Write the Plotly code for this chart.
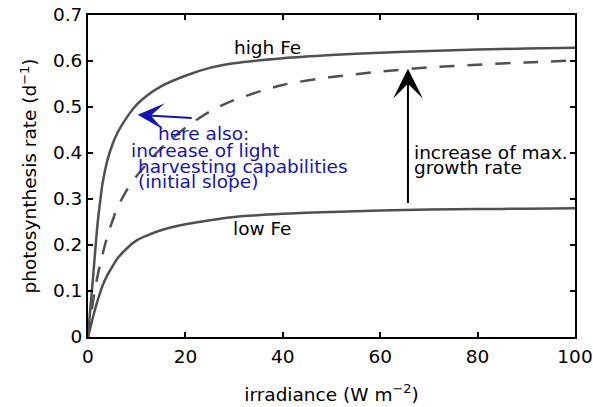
import plotly.graph_objects as go

# irradiance (W m^-2)
irr = [0, 0.5, 1, 1.5, 2, 2.5, 3, 4, 5, 6, 8, 10, 12, 15, 20, 25, 30, 40, 50, 60, 70, 80, 90, 100]
high_fe = [0, 0.065, 0.125, 0.19, 0.25, 0.295, 0.335, 0.385, 0.418, 0.443, 0.478, 0.505, 0.524,
           0.545, 0.568, 0.585, 0.595, 0.606, 0.613, 0.618, 0.622, 0.625, 0.627, 0.629]
low_fe = [0, 0.021, 0.042, 0.062, 0.08, 0.097, 0.112, 0.135, 0.153, 0.17, 0.193, 0.21, 0.22,
          0.232, 0.245, 0.254, 0.261, 0.268, 0.272, 0.275, 0.277, 0.278, 0.279, 0.28]
mid_fe = [0, 0.038, 0.075, 0.107, 0.135, 0.158, 0.18, 0.22, 0.252, 0.28, 0.32, 0.35, 0.375,
          0.41, 0.455, 0.49, 0.515, 0.548, 0.565, 0.577, 0.586, 0.592, 0.597, 0.601]

x_ticks = [0, 20, 40, 60, 80, 100]
y_ticks = [0, 0.1, 0.2, 0.3, 0.4, 0.5, 0.6, 0.7]
y_tick_text = ["0", "0.1", "0.2", "0.3", "0.4", "0.5", "0.6", "0.7"]

FONT = "DejaVu Sans"
FS = 18.5
GREY = "#505050"
BLUE = "#1414b4"

fig = go.Figure()
for ys, dash in ((high_fe, "solid"), (low_fe, "solid"), (mid_fe, "15px,13px")):
    fig.add_trace(go.Scatter(x=irr, y=ys, mode="lines",
                             line=dict(color=GREY, width=2.5, dash=dash, shape="spline", smoothing=0.8),
                             showlegend=False, hoverinfo="skip"))

def txt(x, y, s, color="black"):
    fig.add_annotation(x=x, y=y, xref="x", yref="y", text=s, showarrow=False,
                       xanchor="left", yanchor="middle",
                       font=dict(family=FONT, size=FS, color=color))

txt(29.6, 0.630, "high Fe")
txt(29.4, 0.235, "low Fe")
txt(66.6, 0.402, "increase of max.")
txt(66.6, 0.368, "growth rate")
txt(14.0, 0.443, "here also:", BLUE)
txt(8.5, 0.406, "increase of light", BLUE)
txt(9.9, 0.371, "harvesting capabilities", BLUE)
txt(9.9, 0.338, "(initial slope)", BLUE)

# black arrow
fig.add_annotation(x=65.7, y=0.583, ax=65.7, ay=0.288, xref="x", yref="y", axref="x", ayref="y",
                   text="", showarrow=True, arrowhead=3, arrowwidth=2, arrowsize=2.5,
                   arrowcolor="black")
# blue arrow
fig.add_annotation(x=10.2, y=0.483, ax=21.6, ay=0.476, xref="x", yref="y", axref="x", ayref="y",
                   text="", showarrow=True, arrowhead=3, arrowwidth=2, arrowsize=2.2,
                   arrowcolor=BLUE)

axis_common = dict(showline=True, linecolor="black", linewidth=2, mirror="ticks",
                   ticks="inside", ticklen=5, tickwidth=1.5, tickcolor="black",
                   showgrid=False, zeroline=False, automargin=False, ticklabeloverflow="allow",
                   tickfont=dict(family=FONT, size=FS, color="black"))

fig.update_xaxes(range=[0, 100], tickvals=x_ticks, ticktext=[str(v) for v in x_ticks],
                 ticklabelstandoff=2,
                 title=dict(text="irradiance (W m<sup>−2</sup>)", font=dict(family=FONT, size=FS, color="black"),
                            standoff=22),
                 **axis_common)
fig.update_yaxes(range=[0, 0.7], tickvals=y_ticks, ticktext=y_tick_text,
                 title=dict(text="photosynthesis rate (d<sup>−1</sup>)", font=dict(family=FONT, size=FS, color="black"),
                            standoff=11),
                 **axis_common)

fig.update_layout(width=593, height=407, margin=dict(l=88, r=18, t=15, b=70),
                  plot_bgcolor="white", paper_bgcolor="white")

# remove the default page margin so the figure fills the window exactly
fig.write_html("out.html", config={"displayModeBar": False},
               post_script="document.body.style.margin='0px';document.body.style.overflow='hidden';")
